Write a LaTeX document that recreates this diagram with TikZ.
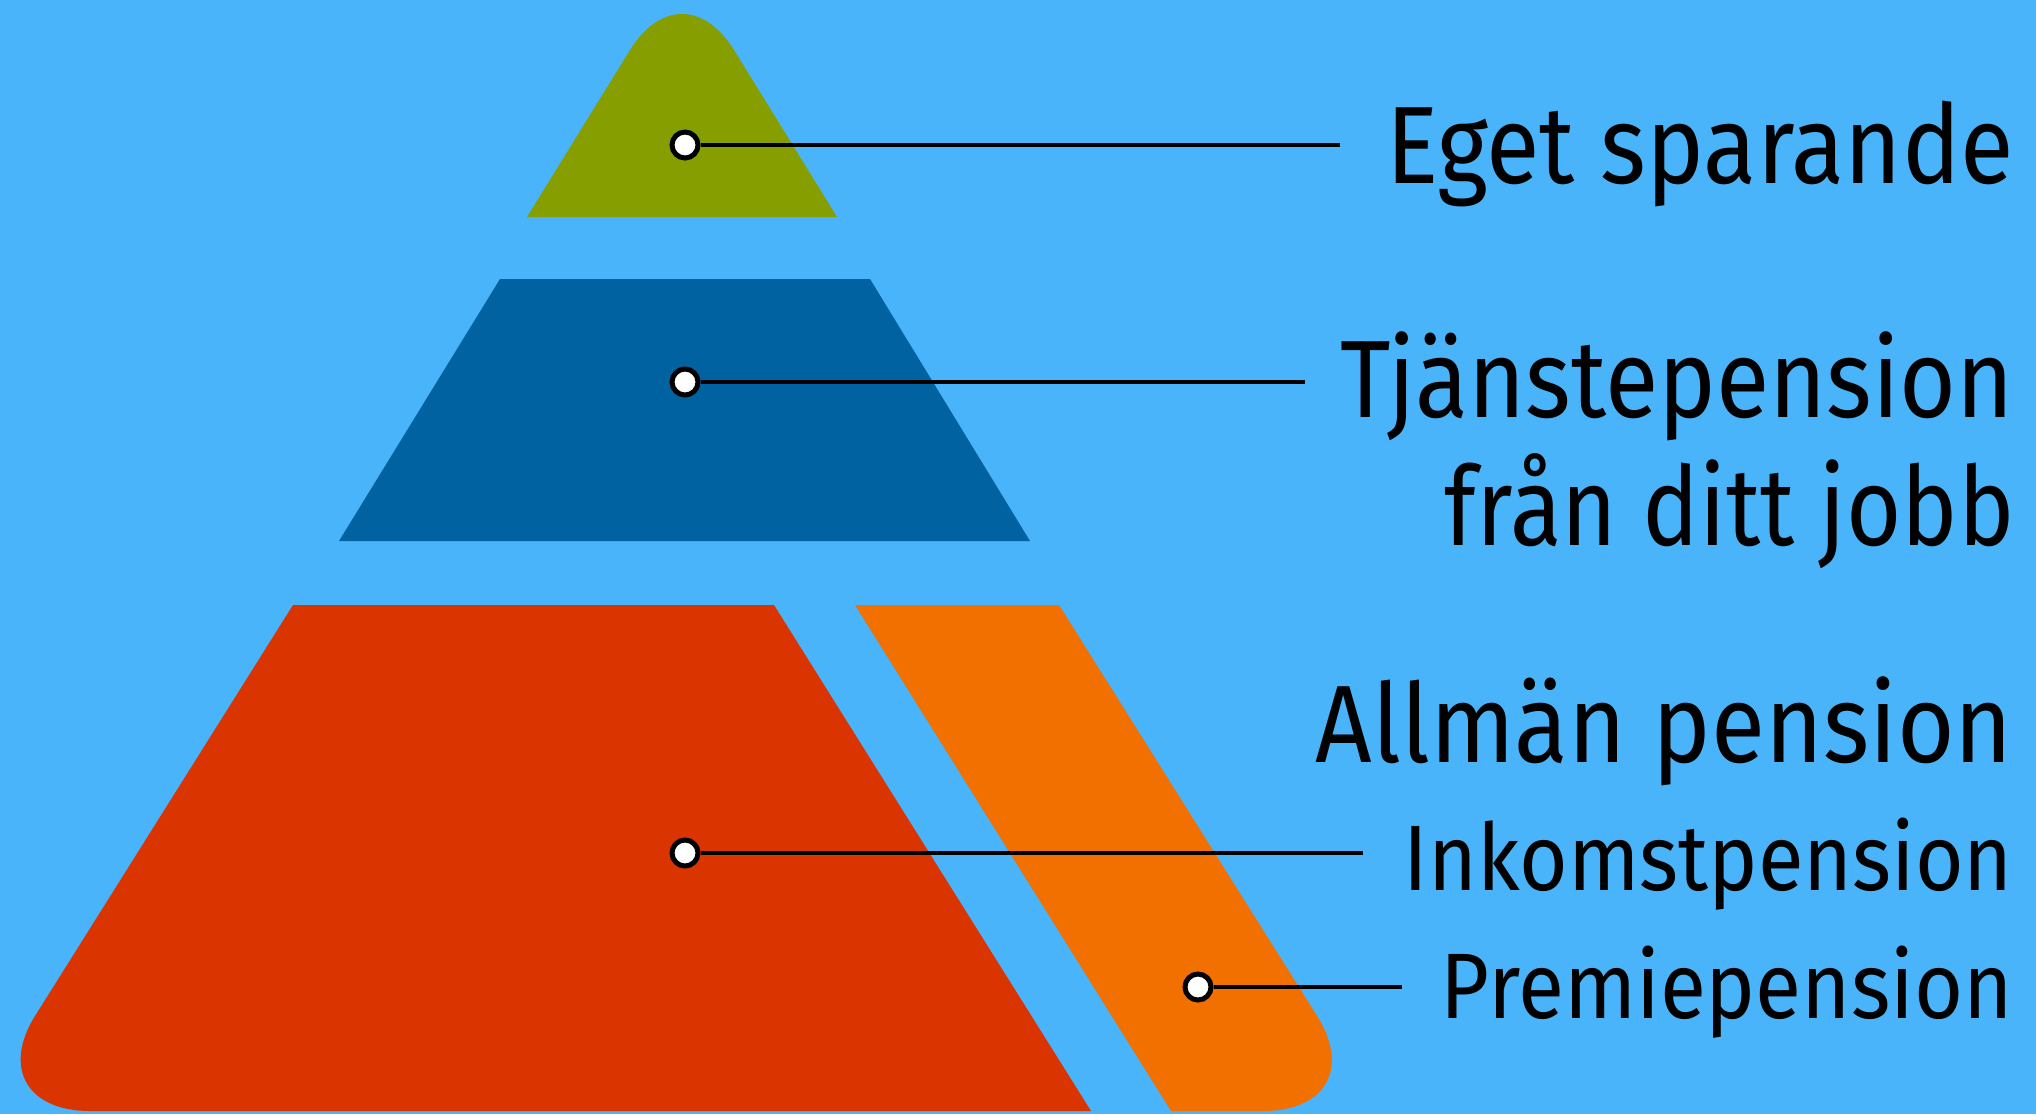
\documentclass[tikz,border=0pt]{standalone}
\usepackage{fontspec}
\usepackage{graphicx}
\setmainfont{Fira Sans}
\definecolor{bgblue}{RGB}{74,180,250}
\definecolor{olive}{RGB}{135,158,0}
\definecolor{darkblue}{RGB}{0,98,160}
\definecolor{redlayer}{RGB}{218,52,0}
\definecolor{orangelayer}{RGB}{241,112,0}
\tikzset{
  dot/.style={circle, draw=black, fill=white, line width=5pt, minimum size=26pt, inner sep=0pt},
  conn/.style={draw=black, line width=4.6pt},
  lbl/.style={anchor=base east, inner sep=0pt, text=black},
  big/.style={font=\fontsize{110}{110}\selectfont},
  small/.style={font=\fontsize{93}{93}\selectfont},
}
\begin{document}
\begin{tikzpicture}[x=1pt,y=-1pt]
\fill[bgblue] (0,0) rectangle (2036,1114);
\useasboundingbox (0,0) rectangle (2036,1114);
% top: own savings
\fill[olive] (527,217) -- (630,50) .. controls (660,2) and (704,2) .. (734,50) -- (837,217) -- cycle;
% middle: occupational pension
\fill[darkblue] (500,279) -- (870,279) -- (1030,541) -- (339,541) -- cycle;
% bottom: income pension
\fill[redlayer] (293,605) -- (774,605) -- (1091,1111) -- (90,1111) .. controls (27,1111) and (2.5,1068) .. (35,1016) -- cycle;
% premium pension
\fill[orangelayer] (855,605) -- (1059,605) -- (1317,1016) .. controls (1350,1068) and (1326,1111) .. (1263,1111) -- (1171,1111) -- cycle;
% markers and connectors
\node[dot] (d1) at (685,145) {};
\node[dot] (d2) at (685,382) {};
\node[dot] (d3) at (685,853) {};
\node[dot] (d4) at (1198,987) {};
\coordinate (e1) at (1340,145);
\coordinate (e2) at (1305,382);
\coordinate (e3) at (1363,853);
\coordinate (e4) at (1402,987);
\draw[conn] (d1) -- (e1);
\draw[conn] (d2) -- (e2);
\draw[conn] (d3) -- (e3);
\draw[conn] (d4) -- (e4);
% labels
\node[lbl, big] (t1) at (2014,183) {\resizebox{627pt}{\height}{Eget sparande}};
\node[lbl, big] (t2) at (2014,417) {\resizebox{673pt}{\height}{Tjänstepension}};
\node[lbl, big] (t3) at (2015,545) {\resizebox{570pt}{\height}{från ditt jobb}};
\node[lbl, big] (t4) at (2013,762) {\resizebox{697pt}{\height}{Allmän pension}};
\node[lbl, small] (t5) at (2013,890) {\resizebox{609pt}{\height}{Inkomstpension}};
\node[lbl, small] (t6) at (2013,1018) {\resizebox{572pt}{\height}{Premiepension}};
\end{tikzpicture}
\end{document}
